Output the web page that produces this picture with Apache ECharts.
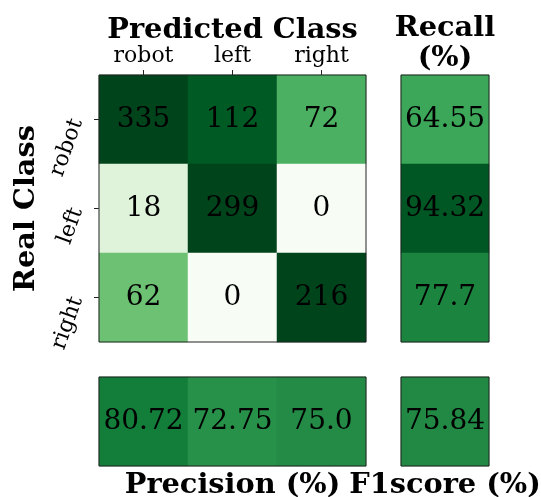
<!DOCTYPE html>
<html>
<head>
<meta charset="utf-8">
<script src="https://cdn.jsdelivr.net/npm/echarts@6/dist/echarts.min.js"></script>
<style>
html,body{margin:0;padding:0;background:#fff;}
#chart{width:541px;height:497px;}
</style>
</head>
<body>
<div id="chart"></div>
<script>
// ---- data ----
const classes = ['robot', 'left', 'right'];
const confusionRows = [
  [335, 112, 72],
  [18, 299, 0],
  [62, 0, 216]
];
const recall = [64.55, 94.32, 77.7];
const precision = [80.72, 72.75, 75.0];
const f1score = [75.84];

// ---- helpers ----
const greens = ['#f7fcf5','#e5f5e0','#c7e9c0','#a1d99b','#74c476','#41ab5d','#238b45','#006d2c','#00441b'];
const FONT = 'DejaVu Serif';
function pyStr(v, isFloat) {
  if (isFloat && Number.isInteger(v)) return v.toFixed(1);
  return String(v);
}

const mainData = [];
confusionRows.forEach((row, r) => row.forEach((v, c) => mainData.push([c, r, v])));
const recallData = recall.map((v, r) => [0, r, v]);
const precData = precision.map((v, c) => [c, 0, v]);
const f1Data = f1score.map(v => [0, 0, v]);

const gridBase = {show: true, z: 10, backgroundColor: 'transparent', borderColor: '#222', borderWidth: 1, containLabel: false, outerBoundsMode: 'none'};
const grids = [
  Object.assign({left: 99, top: 75, width: 267, height: 267}, gridBase),
  Object.assign({left: 401, top: 75, width: 88, height: 267}, gridBase),
  Object.assign({left: 99, top: 377, width: 267, height: 89}, gridBase),
  Object.assign({left: 401, top: 377, width: 88, height: 89}, gridBase)
];

const titleStyle = {fontFamily: FONT, fontWeight: 'bold', fontSize: 28.8, color: '#000'};
const hiddenParts = {axisLine: {show: false}, axisTick: {show: false}, axisLabel: {show: false}, splitLine: {show: false}};

const xAxes = [
  {gridIndex: 0, type: 'category', data: classes, position: 'top',
   axisLine: {show: false},
   axisTick: {show: true, alignWithLabel: true, length: 5, lineStyle: {color: '#222', width: 1}},
   axisLabel: {fontFamily: FONT, fontSize: 22, color: '#000', margin: 8},
   splitLine: {show: false},
   name: 'Predicted Class', nameLocation: 'middle', nameGap: 30, nameMoveOverlap: false,
   nameTextStyle: titleStyle},
  Object.assign({gridIndex: 1, type: 'category', data: [''], position: 'top',
   name: 'Recall\n(%)', nameLocation: 'middle', nameGap: 1, nameMoveOverlap: false,
   nameTextStyle: Object.assign({lineHeight: 30}, titleStyle)}, hiddenParts),
  Object.assign({gridIndex: 2, type: 'category', data: classes, position: 'bottom',
   name: 'Precision (%)', nameLocation: 'middle', nameGap: 5, nameMoveOverlap: false,
   nameTextStyle: titleStyle}, hiddenParts),
  Object.assign({gridIndex: 3, type: 'category', data: [''], position: 'bottom',
   name: 'F1score (%)', nameLocation: 'middle', nameGap: 5, nameMoveOverlap: false,
   nameTextStyle: titleStyle}, hiddenParts)
];

const yAxes = [
  {gridIndex: 0, type: 'category', data: classes, inverse: true, position: 'left',
   axisLine: {show: false},
   axisTick: {show: true, alignWithLabel: true, length: 5, lineStyle: {color: '#222', width: 1}},
   axisLabel: {fontFamily: FONT, fontSize: 22, color: '#000', margin: 22, rotate: 70},
   splitLine: {show: false},
   name: 'Real Class', nameLocation: 'middle', nameGap: 58, nameMoveOverlap: false,
   nameTextStyle: titleStyle},
  Object.assign({gridIndex: 1, type: 'category', data: classes, inverse: true}, hiddenParts),
  Object.assign({gridIndex: 2, type: 'category', data: ['']}, hiddenParts),
  Object.assign({gridIndex: 3, type: 'category', data: ['']}, hiddenParts)
];

function hm(idx, data, isFloat) {
  return {
    type: 'heatmap', xAxisIndex: idx, yAxisIndex: idx, data: data,
    label: {show: true, fontFamily: FONT, fontSize: 28, color: '#000',
            formatter: p => pyStr(p.value[2], isFloat)},
    emphasis: {disabled: true},
    itemStyle: {borderWidth: 0}
  };
}

const chart = echarts.init(document.getElementById('chart'), null, {renderer: 'canvas'});
chart.setOption({
  animation: false,
  backgroundColor: '#fff',
  grid: grids,
  xAxis: xAxes,
  yAxis: yAxes,
  visualMap: [
    {type: 'continuous', show: false, seriesIndex: [0], min: 0, max: 120, dimension: 2, inRange: {color: greens}},
    {type: 'continuous', show: false, seriesIndex: [1, 2, 3], min: 0, max: 100, dimension: 2, inRange: {color: greens}}
  ],
  series: [
    hm(0, mainData, false),
    hm(1, recallData, true),
    hm(2, precData, true),
    hm(3, f1Data, true)
  ]
});
</script>
</body>
</html>
